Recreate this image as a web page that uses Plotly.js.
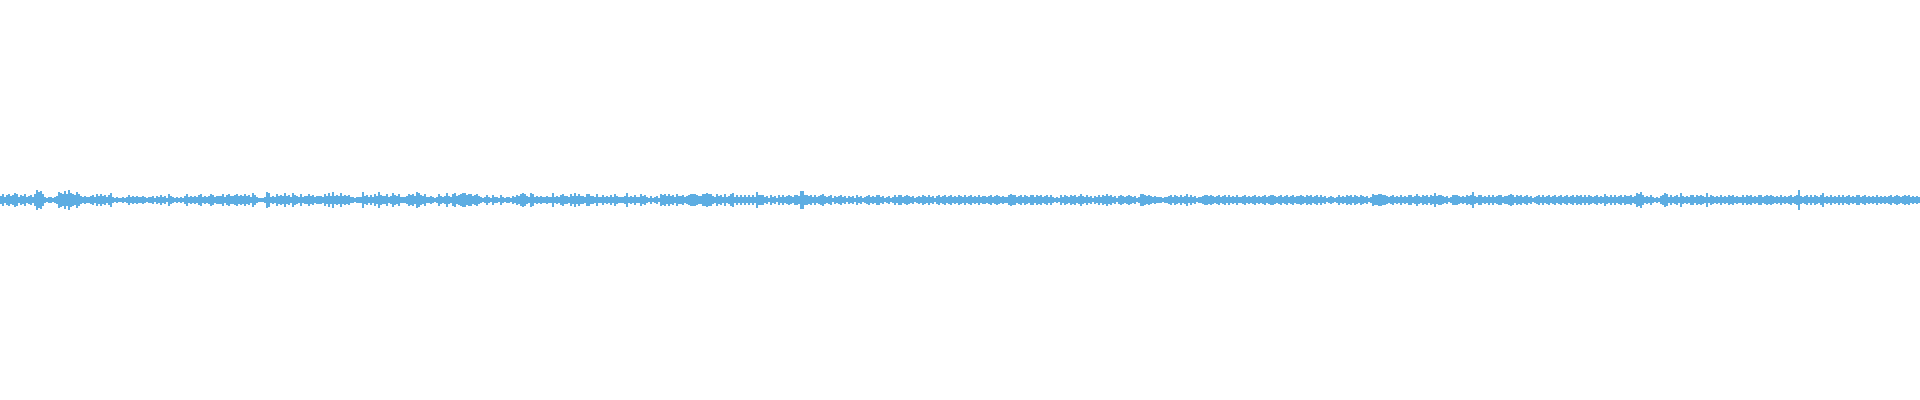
<!DOCTYPE html>
<html>
<head>
<meta charset="utf-8">
<script src="https://cdn.plot.ly/plotly-3.0.1.min.js"></script>
<style>
html,body{margin:0;padding:0;background:#ffffff;}
#chart{width:1920px;height:400px;}
</style>
</head>
<body>
<div id="chart"></div>
<script>
// Peak amplitude of each waveform column (half-height), read left to right in six stretches
const seg1 = [
4,6,3,5,6,4,5,7,6,3, 5,4,6,3,4,5,3,6,10,8, 9,6,3,2,3,3,2,3,4,8, 7,6,9,6,10,7,6,5,8,6,
4,3,4,3,3,4,5,3,6,4, 6,4,5,3,5,7,3,2,3,2, 2,3,2,3,5,3,4,3,4,3, 3,4,3,2,3,3,4,2,4,3,
5,3,4,2,6,4,3,2,3,2, 3,2,4,6,3,4,3,4,3,5, 6,3,4,3,4,6,5,3,4,4, 4,6,3,5,6,4,4,5,6,4,
5,4,6,4,5,3,7,5,3,2, 2,2,3,8,7,3,4,3,6,4, 5,4,7,4,5,3,7,5,4,3, 6,3,4,4,6,4,5,3,4,4
];
const seg2 = [
4,3,6,4,7,4,8,4,5,4, 7,4,5,4,5,3,3,2,3,3, 3,8,4,5,3,5,3,6,4,8, 5,4,4,6,3,4,7,5,4,6,
3,3,3,4,6,5,6,4,8,7, 5,4,6,3,3,4,3,2,3,6, 4,3,4,7,4,3,6,7,4,5, 6,7,7,5,6,6,4,5,6,4,
3,2,3,5,3,2,5,3,3,2, 5,3,2,3,3,2,4,3,5,4, 6,7,6,4,3,7,6,3,4,3, 4,3,3,4,3,3,7,3,4,3,
5,6,4,4,3,6,4,7,4,6, 4,4,3,6,6,4,4,3,6,3, 3,5,3,4,3,5,3,6,4,3, 3,3,4,7,3,4,3,5,3,3
];
const seg3 = [
6,4,5,3,2,4,2,3,4,2, 6,5,6,4,6,4,5,3,6,4, 4,5,3,4,5,6,6,6,5,4, 4,6,6,7,6,6,4,3,6,4,
5,3,6,3,4,6,7,3,5,3, 5,3,5,3,5,3,5,3,8,5, 5,5,3,4,2,5,3,4,2,5, 3,5,3,4,5,4,3,5,5,4,
9,9,5,5,4,5,3,5,3,4, 5,6,4,3,4,5,2,4,3,4, 5,3,4,2,4,3,4,2,5,3, 4,2,3,4,5,3,4,3,5,5,
3,4,2,3,4,2,3,5,3,5, 5,3,4,5,4,3,4,2,3,4, 3,5,4,3,5,3,4,2,4,5, 3,4,5,3,4,5,3,4,3,5
];
const seg4 = [
4,3,5,3,4,5,3,4,3,5, 3,4,4,3,4,5,3,4,5,4, 3,4,3,3,5,6,5,5,3,4, 5,3,5,4,3,5,5,3,5,4,
5,3,4,5,3,5,3,2,3,2, 5,3,5,4,3,5,4,5,3,4, 6,4,3,5,3,4,2,4,3,5, 3,5,4,6,4,5,3,4,2,4,
5,4,3,4,5,4,3,4,2,3, 6,6,5,4,5,4,3,4,3,3, 3,2,3,3,4,5,3,5,4,3, 5,3,4,6,3,5,3,4,2,3,
3,4,5,5,4,5,4,3,4,5, 3,4,5,3,5,3,4,3,5,3, 3,4,5,3,4,3,4,5,3,4, 3,4,5,3,4,5,5,4,3,4
];
const seg5 = [
5,3,4,5,3,4,5,3,4,4, 5,4,3,5,4,5,3,4,5,3, 5,3,4,2,3,4,3,2,3,5, 3,4,3,5,4,5,3,5,4,3,
5,4,3,4,2,3,6,5,5,6, 6,5,5,4,3,4,5,3,4,3, 5,3,4,3,5,5,3,4,6,4, 3,5,4,5,3,5,4,7,4,5,
5,4,3,4,2,3,5,5,5,4, 3,4,3,5,4,5,8,4,3,5, 5,3,4,3,5,3,5,3,4,5, 5,3,4,4,5,6,5,3,5,4,
5,3,4,5,3,4,2,3,4,5, 3,5,3,4,5,3,4,5,3,4, 5,3,4,5,3,4,5,3,5,4, 5,3,5,3,5,4,3,4,5,3
];
const seg6 = [
4,3,6,4,3,5,3,5,3,4, 5,3,5,4,4,5,3,4,7,6, 8,5,3,4,3,5,3,2,3,2, 4,5,7,6,3,5,3,4,5,3,
7,4,3,4,3,5,5,3,5,4, 5,4,3,7,3,5,4,3,4,3, 5,3,4,3,5,4,5,3,4,3, 3,5,3,5,4,5,3,4,3,5,
5,3,4,5,4,5,4,3,4,3, 5,3,4,3,4,5,3,4,5,10, 4,3,4,5,3,5,3,5,4,3, 5,7,3,4,3,5,3,4,3,5,
3,5,3,4,5,3,4,3,5,5, 3,4,5,3,4,3,4,3,5,3, 4,3,4,3,4,5,3,4,5,4, 3,4,5,4,5,3,4,3,4,3
];

const amp = [].concat(seg1, seg2, seg3, seg4, seg5, seg6);
const xs = amp.map((_, i) => i);
const heights = amp.map(a => 2 * a);
const bases = amp.map(a => -a);

const trace = {
  type: 'bar',
  x: xs,
  y: heights,
  base: bases,
  marker: {color: '#5DADE2', line: {width: 0}},
  hoverinfo: 'skip'
};

const layout = {
  width: 1920,
  height: 400,
  margin: {l: 0, r: 0, t: 0, b: 0, pad: 0},
  paper_bgcolor: '#ffffff',
  plot_bgcolor: '#ffffff',
  showlegend: false,
  bargap: 0,
  xaxis: {range: [-0.5, amp.length - 0.5], visible: false, showgrid: false, zeroline: false, fixedrange: true},
  yaxis: {range: [-200, 200], visible: false, showgrid: false, zeroline: false, fixedrange: true}
};

Plotly.newPlot('chart', [trace], layout, {displayModeBar: false, staticPlot: true});
</script>
</body>
</html>
